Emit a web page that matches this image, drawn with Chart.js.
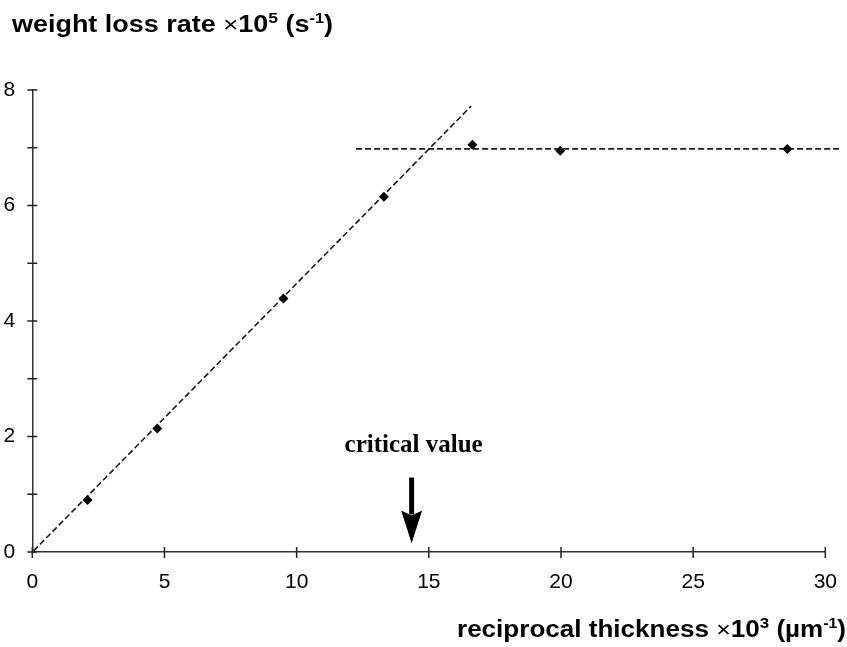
<!DOCTYPE html>
<html>
<head>
<meta charset="utf-8">
<script src="https://cdn.jsdelivr.net/npm/chart.js@4.4.1/dist/chart.umd.min.js"></script>
<style>
  html, body { margin: 0; padding: 0; background: #fff; }
</style>
</head>
<body>
<canvas id="myChart" width="847" height="647"></canvas>
<script>
"use strict";

// measured points
const thicknessX = [2.09, 4.73, 9.5, 13.3, 16.65, 19.97, 28.56];
const lossRateY = [0.9, 2.14, 4.39, 6.15, 7.05, 6.95, 6.98];

// the two dashed guide lines
const slopeLineX = [0.05, 16.6];
const slopeLineY = [0.02, 7.72];
const plateauX = [12.25, 30.6];
const plateauY = [6.98, 6.98];

// arrow for the critical value
const criticalX = 14.35;
const arrowTopY = 1.29;
const arrowHeadY = 0.72;
const arrowTipY = 0.15;
const criticalLabelY = 1.73;

const xTicks = [0, 5, 10, 15, 20, 25, 30];
const yTicks = [0, 1, 2, 3, 4, 5, 6, 7, 8];
const yTickLabels = ["0", "", "2", "", "4", "", "6", "", "8"];

const sans = "Arial, 'Liberation Sans', sans-serif";
const serif = "'Times New Roman', 'Liberation Serif', serif";

function toPoints(xs, ys) {
  return xs.map((x, i) => ({ x: x, y: ys[i] }));
}

// draw text made of pieces (for the superscripts), stretched to a given span
function drawParts(ctx, parts, left, right, y) {
  let total = 0;
  for (const p of parts) {
    ctx.font = p.font;
    p.w = ctx.measureText(p.text).width;
    total += p.w;
  }
  const sx = (right - left) / total;
  ctx.save();
  ctx.translate(left, y);
  ctx.scale(sx, 1);
  ctx.textAlign = "left";
  ctx.textBaseline = "alphabetic";
  let cx = 0;
  for (const p of parts) {
    ctx.font = p.font;
    ctx.fillText(p.text, cx, p.dy || 0);
    cx += p.w;
  }
  ctx.restore();
}

const extrasPlugin = {
  id: "extras",
  afterDraw(chart) {
    const ctx = chart.ctx;
    const xs = chart.scales.x;
    const ys = chart.scales.y;
    const area = chart.chartArea;
    ctx.save();
    ctx.fillStyle = "#000";
    ctx.strokeStyle = "#222";
    ctx.lineWidth = 1.5;

    // tick marks crossing the axes
    ctx.beginPath();
    for (const v of yTicks) {
      const py = ys.getPixelForValue(v);
      ctx.moveTo(area.left - 5, py);
      ctx.lineTo(area.left + 5, py);
    }
    for (const v of xTicks) {
      const px = xs.getPixelForValue(v);
      ctx.moveTo(px, area.bottom - 5);
      ctx.lineTo(px, area.bottom + 6);
    }
    ctx.stroke();

    // arrow
    const ax = xs.getPixelForValue(criticalX);
    const top = ys.getPixelForValue(arrowTopY);
    const head = ys.getPixelForValue(arrowHeadY);
    const tip = ys.getPixelForValue(arrowTipY);
    ctx.fillRect(ax - 2.5, top, 5, head - top + 4);
    ctx.beginPath();
    ctx.moveTo(ax - 10.5, head);
    ctx.lineTo(ax, head + 5);
    ctx.lineTo(ax + 10.5, head);
    ctx.lineTo(ax, tip);
    ctx.closePath();
    ctx.fill();

    // label
    ctx.font = "bold 25px " + serif;
    ctx.textAlign = "center";
    ctx.textBaseline = "alphabetic";
    ctx.fillText("critical value", ax + 2, ys.getPixelForValue(criticalLabelY));

    // axis titles
    drawParts(ctx, [
      { text: "weight loss rate ", font: "bold 23px " + sans },
      { text: "\u00d7", font: "22px " + sans },
      { text: "10", font: "bold 23px " + sans },
      { text: "5", font: "bold 15px " + sans, dy: -9 },
      { text: " (s", font: "bold 23px " + sans },
      { text: "-1", font: "bold 14px " + sans, dy: -9 },
      { text: ")", font: "bold 23px " + sans }
    ], 12, 333, 32);

    drawParts(ctx, [
      { text: "reciprocal thickness ", font: "bold 23px " + sans },
      { text: "\u00d7", font: "22px " + sans },
      { text: "10", font: "bold 23px " + sans },
      { text: "3", font: "bold 15px " + sans, dy: -9 },
      { text: " (\u00b5m", font: "bold 23px " + sans },
      { text: "-1", font: "bold 14px " + sans, dy: -9 },
      { text: ")", font: "bold 23px " + sans }
    ], 457, 846, 637);

    ctx.restore();
  }
};

const lineStyle = {
  showLine: true,
  borderColor: "#1a1a1a",
  borderWidth: 1.6,
  borderDash: [6, 3],
  pointRadius: 0,
  fill: false
};

const config = {
  type: "scatter",
  data: {
    datasets: [
      {
        label: "measured",
        data: toPoints(thicknessX, lossRateY),
        pointStyle: "rectRot",
        pointRadius: 5,
        backgroundColor: "#000",
        borderColor: "#000",
        borderWidth: 0
      },
      Object.assign({ label: "slope", data: toPoints(slopeLineX, slopeLineY) }, lineStyle),
      Object.assign({ label: "plateau", data: toPoints(plateauX, plateauY), clip: false }, lineStyle)
    ]
  },
  options: {
    responsive: false,
    animation: false,
    layout: { padding: { left: 0, right: 17, top: 90, bottom: 40 } },
    plugins: { legend: { display: false }, tooltip: { enabled: false } },
    scales: {
      x: {
        type: "linear",
        min: 0,
        max: 30,
        afterBuildTicks: (scale) => { scale.ticks = xTicks.map((v) => ({ value: v })); },
        afterFit: (scale) => { scale.height = 55; },
        grid: { display: true, drawOnChartArea: false, color: "rgba(0,0,0,0)", tickLength: 8 },
        border: { display: true, color: "#333", width: 1.5 },
        ticks: { color: "#000", padding: 10, maxRotation: 0, autoSkip: false, font: { family: sans, size: 21 } }
      },
      y: {
        type: "linear",
        min: 0,
        max: 8,
        afterBuildTicks: (scale) => { scale.ticks = yTicks.map((v) => ({ value: v })); },
        afterFit: (scale) => { scale.width = 32.3; },
        grid: { display: true, drawOnChartArea: false, color: "rgba(0,0,0,0)", tickLength: 6 },
        border: { display: true, color: "#333", width: 1.5 },
        ticks: {
          color: "#000",
          padding: 11,
          autoSkip: false,
          font: { family: sans, size: 21 },
          callback: (v) => yTickLabels[yTicks.indexOf(v)]
        }
      }
    }
  },
  plugins: [extrasPlugin]
};

new Chart(document.getElementById("myChart"), config);
</script>
</body>
</html>
